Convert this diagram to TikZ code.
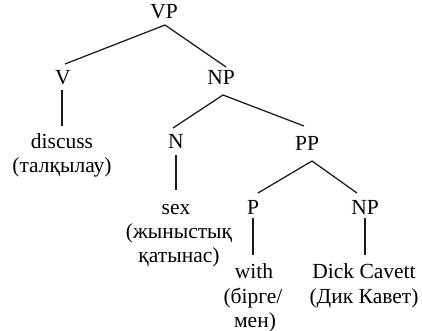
\documentclass[tikz,border=0pt]{standalone}
\usepackage{fontspec}
\setmainfont{Liberation Serif}
\begin{document}
\begin{tikzpicture}[x=1pt,y=-1pt,
  lbl/.style={anchor=base,inner sep=0pt,font=\fontsize{21.5}{24}\selectfont,text=black},
  edge/.style={draw=black!90,line width=1.25pt}]
\useasboundingbox (0,0) rectangle (422,331);
% category labels
\node[lbl] (vp)  at (164,19)  {VP};
\node[lbl] (v)   at (63,85)   {V};
\node[lbl] (np)  at (221,85)  {NP};
\node[lbl] (n)   at (176,148) {N};
\node[lbl] (pp)  at (307,150) {PP};
\node[lbl] (p)   at (253,214) {P};
\node[lbl] (np2) at (365,214) {NP};
% words with glosses
\node[lbl] (discuss)  at (62,149)  {discuss};
\node[lbl] (discussg) at (62,172)  {(талқылау)};
\node[lbl] (sex)      at (176,214) {sex};
\node[lbl] (sexg)     at (179,238) {(жыныстық};
\node[lbl] (sexg2)    at (179,262) {қатынас)};
\node[lbl] (with)     at (254,278) {with};
\node[lbl] (withg)    at (253,303) {(бірге/};
\node[lbl] (withg2)   at (255,327) {мен)};
\node[lbl] (dick)     at (364,278) {Dick Cavett};
\node[lbl] (dickg)    at (364,303) {(Дик Кавет)};
% branches
\draw[edge] ([shift={(1pt,-6pt)}]vp.base) -- ([shift={(2pt,21pt)}]v.base);
\draw[edge] ([shift={(1pt,-6pt)}]vp.base) -- ([shift={(5pt,18pt)}]np.base);
\draw[edge] ([shift={(-1pt,-5pt)}]v.base) -- ([shift={(0pt,23pt)}]discuss.base);
\draw[edge] ([shift={(2pt,-10pt)}]np.base) -- ([shift={(-3pt,20pt)}]n.base);
\draw[edge] ([shift={(2pt,-10pt)}]np.base) -- ([shift={(-3pt,24pt)}]pp.base);
\draw[edge] ([shift={(0pt,-7pt)}]n.base) -- ([shift={(0pt,24pt)}]sex.base);
\draw[edge] ([shift={(5pt,-11pt)}]pp.base) -- ([shift={(5pt,21pt)}]p.base);
\draw[edge] ([shift={(5pt,-11pt)}]pp.base) -- ([shift={(-8pt,21pt)}]np2.base);
\draw[edge] ([shift={(0pt,-4pt)}]p.base) -- ([shift={(-1pt,23pt)}]with.base);
\draw[edge] ([shift={(0pt,-4pt)}]np2.base) -- ([shift={(1pt,23pt)}]dick.base);
\end{tikzpicture}
\end{document}
